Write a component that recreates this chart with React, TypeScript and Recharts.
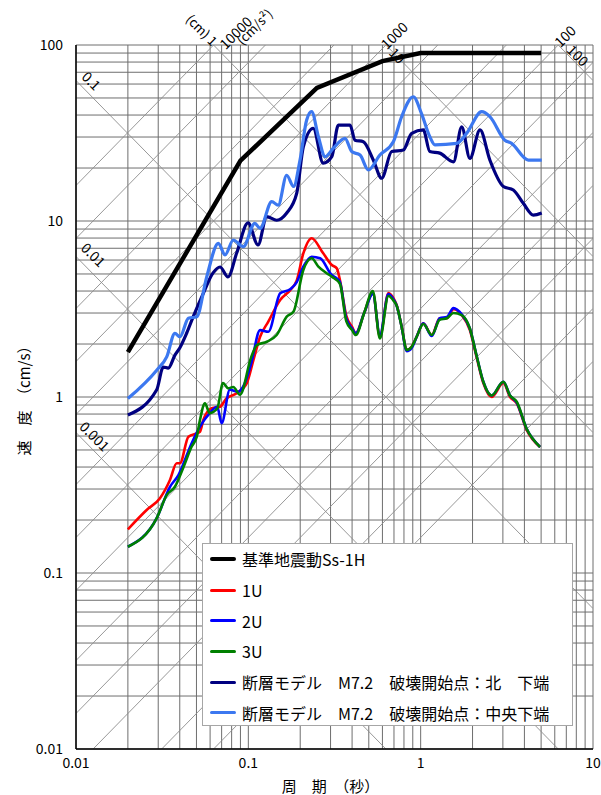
import React from 'react'
import {
  LineChart,
  Line,
  XAxis,
  YAxis,
  ReferenceLine,
  ReferenceDot,
  Legend,
} from 'recharts'

const FONT = '"Noto Sans CJK JP", "Noto Sans", sans-serif'

// 周期 (秒) / 速度 (cm/s)
const ssPeriod = [0.02, 0.09, 0.25, 0.6, 1.0, 5.0]
const ssVel = [1.8, 22, 57, 81, 90, 90]

const u1Period = [
  0.02, 0.0257, 0.0307, 0.0351, 0.0384, 0.0401, 0.0449, 0.0524, 0.0548, 0.0613,
  0.0685, 0.0746, 0.0856, 0.098, 0.107, 0.117, 0.1306, 0.153, 0.175, 0.191,
  0.2085, 0.233, 0.272, 0.305, 0.326, 0.34, 0.37, 0.4, 0.42, 0.47, 0.528, 0.58,
  0.65, 0.7, 0.726, 0.776, 0.83, 0.887, 0.948, 1.036, 1.16, 1.29, 1.42, 1.55,
  1.73, 1.93, 2.11, 2.31, 2.58, 3.02, 3.3, 3.61, 4.12, 4.93,
]
const u1Vel = [
  0.177, 0.228, 0.266, 0.338, 0.42, 0.42, 0.595, 0.635, 0.74, 0.863,
  0.88, 0.98, 1.05, 1.2, 1.62, 2.2, 2.68, 3.56, 4.05, 4.6,
  6.55, 7.98, 6.55, 5.62, 5.38, 4.62, 2.9, 2.5, 2.3, 3.0, 3.9, 2.2,
  3.9, 3.6, 3.33, 2.51, 1.85, 1.93, 2.2, 2.62, 2.25, 2.8, 2.8, 3.15,
  2.92, 2.4, 1.69, 1.2, 1.0, 1.2, 1.0, 0.92, 0.65, 0.52,
]

const u2Period = [
  0.02, 0.0294, 0.0351, 0.0393, 0.0469, 0.0524, 0.0597, 0.066, 0.07, 0.0781,
  0.087, 0.0955, 0.104, 0.117, 0.1306, 0.153, 0.175, 0.191, 0.2085, 0.233,
  0.261, 0.305, 0.326, 0.34, 0.37, 0.4, 0.42, 0.47, 0.528, 0.58, 0.65, 0.7,
  0.726, 0.776, 0.83, 0.887, 0.948, 1.036, 1.16, 1.29, 1.42, 1.55, 1.73, 1.93,
  2.11, 2.31, 2.58, 3.02, 3.3, 3.61, 4.12, 4.93,
]
const u2Vel = [
  0.141, 0.205, 0.309, 0.36, 0.546, 0.678, 0.81, 0.88, 0.71, 1.1,
  1.07, 1.2, 1.56, 2.4, 2.35, 3.88, 4.1, 4.5, 5.5, 6.27,
  6.14, 4.93, 4.72, 4.5, 2.8, 2.45, 2.3, 3.0, 3.85, 2.25, 3.85, 3.55,
  3.3, 2.5, 1.82, 1.9, 2.2, 2.62, 2.22, 2.8, 2.85, 3.2, 2.95, 2.45,
  1.72, 1.22, 1.02, 1.22, 1.02, 0.93, 0.66, 0.52,
]

const u3Period = [
  0.02, 0.0294, 0.0336, 0.0375, 0.0418, 0.0469, 0.0502, 0.0524, 0.056, 0.0597,
  0.066, 0.0713, 0.0765, 0.0818, 0.0894, 0.104, 0.112, 0.128, 0.146, 0.167,
  0.183, 0.2085, 0.233, 0.255, 0.285, 0.305, 0.34, 0.37, 0.4, 0.42, 0.47,
  0.528, 0.58, 0.65, 0.7, 0.726, 0.776, 0.83, 0.887, 0.948, 1.036, 1.16, 1.29,
  1.42, 1.55, 1.73, 1.93, 2.11, 2.31, 2.58, 3.02, 3.3, 3.61, 4.12, 4.93,
]
const u3Vel = [
  0.141, 0.205, 0.277, 0.309, 0.394, 0.523, 0.595, 0.74, 0.92, 0.81,
  0.86, 1.2, 1.12, 1.14, 1.03, 1.69, 1.97, 2.06, 2.25, 2.86,
  3.06, 5.27, 6.14, 5.5, 5.05, 4.83, 4.4, 2.7, 2.4, 2.25, 3.0,
  4.0, 2.15, 3.75, 3.5, 3.3, 2.5, 1.85, 1.93, 2.2, 2.6, 2.25, 2.75,
  2.8, 3.0, 2.92, 2.45, 1.72, 1.22, 1.02, 1.22, 1.02, 0.94, 0.66, 0.52,
]

const northPeriod = [
  0.02, 0.0294, 0.0321, 0.0343, 0.0375, 0.04, 0.0439, 0.0479, 0.0548, 0.0624,
  0.0685, 0.0762, 0.0856, 0.0996, 0.1138, 0.1278, 0.1461, 0.167, 0.191, 0.2085,
  0.238, 0.272, 0.305, 0.333, 0.389, 0.416, 0.465, 0.531, 0.594, 0.679, 0.793,
  0.887, 1.036, 1.13, 1.29, 1.55, 1.73, 1.93, 2.21, 2.52, 3.02, 3.45, 3.94,
  4.51, 5.04,
]
const northVel = [
  0.79, 1.1, 1.48, 1.46, 1.73, 1.9, 2.31, 2.86, 3.88, 5.07,
  5.48, 4.81, 6.58, 9.75, 7.31, 10.6, 10.1, 11.1, 14.4, 26.4,
  33.6, 21.3, 23.2, 35.1, 35.1, 28.8, 28.2, 22.2, 17.5, 24.8, 25.3,
  31.5, 32.9, 24.8, 24.3, 21.7, 34.3, 22.7, 32.9, 22.2, 15.7, 15.0, 12.6,
  10.8, 11.1,
]

const centerPeriod = [
  0.02, 0.0294, 0.0336, 0.0375, 0.0401, 0.0449, 0.0502, 0.0573, 0.067, 0.0732,
  0.0818, 0.0935, 0.109, 0.117, 0.1367, 0.149, 0.167, 0.183, 0.1995, 0.218,
  0.233, 0.255, 0.279, 0.311, 0.364, 0.398, 0.445, 0.497, 0.58, 0.694, 0.776,
  0.906, 1.01, 1.13, 1.21, 1.62, 1.85, 2.26, 2.52, 3.08, 3.37, 4.21, 5.04,
]
const centerVel = [
  0.98, 1.42, 1.69, 2.3, 2.2, 2.8, 2.86, 4.8, 7.47, 6.41,
  7.8, 7.15, 9.7, 9.09, 12.9, 12.3, 18.2, 15.7, 22.2, 37.5,
  41.8, 30.1, 23.2, 25.9, 29.5, 24.8, 23.7, 19.5, 23.7, 28.2, 39.2,
  50.8, 40.9, 30.1, 27.1, 27.6, 31.5, 41.8, 39.2, 28.8, 27.6, 22.2, 22.2,
]

const xTicks = [0.01, 0.1, 1, 10]
const yTicks = [0.01, 0.1, 1, 10, 100]

// 変位 (cm) と 加速度 (cm/s²) の斜め線
const dispLines = [0.001, 0.01, 0.1, 1, 10, 100]
const accLines = [1, 2, 5, 10, 20, 50, 100, 200, 500, 1000, 2000, 5000, 10000]

const rows = (t: number[], v: number[]) => t.map((p, i) => ({ t: p, v: v[i] }))

const series = [
  { name: '基準地震動Ss-1H', color: '#000000', width: 4.5, curve: 'linear', data: rows(ssPeriod, ssVel) },
  { name: '1U', color: '#ff0000', width: 2.6, curve: 'monotone', data: rows(u1Period, u1Vel) },
  { name: '2U', color: '#0000ff', width: 2.6, curve: 'monotone', data: rows(u2Period, u2Vel) },
  { name: '3U', color: '#008000', width: 2.6, curve: 'monotone', data: rows(u3Period, u3Vel) },
  { name: '断層モデル　M7.2　破壊開始点：北　下端', color: '#000080', width: 3.2, curve: 'monotone', data: rows(northPeriod, northVel) },
  { name: '断層モデル　M7.2　破壊開始点：中央下端', color: '#3c78f0', width: 3.2, curve: 'monotone', data: rows(centerPeriod, centerVel) },
]

const TMIN = 0.01, TMAX = 10, VMIN = 0.01, VMAX = 100
const W = 2 * Math.PI

const gridX: number[] = []
;[0.01, 0.1, 1].forEach((d) => {
  for (let k = 1; k <= 9; k++) gridX.push(+(d * k).toPrecision(3))
})
gridX.push(10)
const gridY: number[] = []
;[0.01, 0.1, 1, 10].forEach((d) => {
  for (let k = 1; k <= 9; k++) gridY.push(+(d * k).toPrecision(3))
})
gridY.push(100)

const dispSeg = (d: number) => {
  const t0 = Math.max(TMIN, (W * d) / VMAX)
  const t1 = Math.min(TMAX, (W * d) / VMIN)
  return [{ x: t0, y: (W * d) / t0 }, { x: t1, y: (W * d) / t1 }]
}
const accSeg = (a: number) => {
  const t0 = Math.max(TMIN, (W * VMIN) / a)
  const t1 = Math.min(TMAX, (W * VMAX) / a)
  return [{ x: t0, y: (a * t0) / W }, { x: t1, y: (a * t1) / W }]
}

// ラベル: 線上の点 (周期) からのずれ
const diagLabels = [
  { text: '0.1', kind: 'd', val: 0.1, t: 0.0111, dx: 8, dy: -8, angle: 45, anchor: 'middle' },
  { text: '0.01', kind: 'd', val: 0.01, t: 0.0111, dx: 10, dy: -10, angle: 45, anchor: 'middle' },
  { text: '0.001', kind: 'd', val: 0.001, t: 0.0116, dx: 8, dy: -8, angle: 45, anchor: 'middle' },
  { text: '(cm)  1', kind: 'd', val: 1, t: 0.0628, dx: 2, dy: -2, angle: 45, anchor: 'end' },
  { text: '10000', kind: 'a', val: 10000, t: 0.0628, dx: 8, dy: 1, angle: -45, anchor: 'start' },
  { text: '(cm/s²)', kind: 'a', val: 10000, t: 0.0628, dx: 25, dy: -3, angle: -45, anchor: 'start' },
  { text: '1000', kind: 'a', val: 1000, t: 0.628, dx: -3, dy: 1, angle: -45, anchor: 'start' },
  { text: '10', kind: 'd', val: 10, t: 0.628, dx: 12, dy: 10, angle: 45, anchor: 'middle' },
  { text: '100', kind: 'a', val: 100, t: 6.28, dx: -2, dy: -1, angle: -45, anchor: 'start' },
  { text: '100', kind: 'd', val: 100, t: 6.28, dx: 20, dy: 10, angle: 45, anchor: 'middle' },
]

const renderLegend = () => (
  <div
    style={{
      width: 371,
      height: 183,
      boxSizing: 'border-box',
      border: '1px solid #a6a6a6',
      background: '#fff',
      fontFamily: FONT,
      fontSize: 16,
      color: '#000',
    }}
  >
    {series.map((s, i) => (
      <div key={i} style={{ display: 'flex', alignItems: 'center', height: 30.7, whiteSpace: 'nowrap' }}>
        <div
          style={{
            marginLeft: 7,
            width: 26,
            height: s.width > 4 ? 4 : 3,
            background: s.color,
            borderRadius: 2,
          }}
        />
        <span style={{ marginLeft: 6 }}>{s.name}</span>
      </div>
    ))}
  </div>
)

export default function App() {
  return (
    <div style={{ position: 'absolute', left: 0, top: 0, width: 601, height: 795, background: '#fff' }}>
      <LineChart width={601} height={795} margin={{ top: 45, right: 8, bottom: 0, left: 0 }}>
        <XAxis
          dataKey="t"
          type="number"
          scale="log"
          domain={[TMIN, TMAX]}
          allowDataOverflow
          ticks={xTicks}
          interval={0}
          height={46}
          tickLine={false}
          tickSize={6}
          tickMargin={3}
          tickFormatter={(v) => String(v)}
          axisLine={{ stroke: '#000', strokeWidth: 1.5 }}
          tick={{ fontSize: 14, fill: '#000', fontFamily: FONT }}
          label={{
            value: '周　期　（秒）',
            position: 'insideBottom',
            offset: 3,
            dx: -4,
            style: { fontSize: 15, fill: '#000', fontFamily: FONT },
          }}
        />
        <YAxis
          type="number"
          scale="log"
          domain={[VMIN, VMAX]}
          allowDataOverflow
          ticks={yTicks}
          interval={0}
          width={76}
          tickLine={false}
          tickSize={6}
          tickMargin={7}
          tickFormatter={(v) => String(v)}
          axisLine={{ stroke: '#000', strokeWidth: 1.5 }}
          tick={{ fontSize: 14, fill: '#000', fontFamily: FONT }}
          label={{
            value: '速　度　（cm/s）',
            angle: -90,
            position: 'center',
            dx: -13,
            style: { fontSize: 15, fill: '#000', fontFamily: FONT, textAnchor: 'middle' },
          }}
        />

        {gridX.map((v) => (
          <ReferenceLine key={'gx' + v} x={v} stroke="#6e6e6e" strokeWidth={1} ifOverflow="visible" />
        ))}
        {gridY.map((v) => (
          <ReferenceLine key={'gy' + v} y={v} stroke="#6e6e6e" strokeWidth={1} ifOverflow="visible" />
        ))}
        {dispLines.map((d) => (
          <ReferenceLine key={'d' + d} segment={dispSeg(d)} stroke="#8c8c8c" strokeWidth={0.9} ifOverflow="hidden" />
        ))}
        {accLines.map((a) => (
          <ReferenceLine key={'a' + a} segment={accSeg(a)} stroke="#8c8c8c" strokeWidth={0.9} ifOverflow="hidden" />
        ))}

        {diagLabels.map((l, i) => (
          <ReferenceDot
            key={'lb' + i}
            x={l.t}
            y={l.kind === 'd' ? (W * l.val) / l.t : (l.val * l.t) / W}
            r={1}
            ifOverflow="visible"
            shape={(p: any) => {
              const x = p.cx + l.dx
              const y = p.cy + l.dy
              return (
                <text
                  x={x}
                  y={y}
                  transform={`rotate(${l.angle} ${x} ${y})`}
                  textAnchor={l.anchor}
                  dominantBaseline="central"
                  fontSize={l.text.startsWith('(') ? 13 : 14}
                  fontFamily={FONT}
                  fill="#000"
                >
                  {l.text}
                </text>
              )
            }}
          />
        ))}

        {series.map((s) => (
          <Line
            key={s.name}
            name={s.name}
            data={s.data}
            dataKey="v"
            type={s.curve as any}
            stroke={s.color}
            strokeWidth={s.width}
            dot={false}
            activeDot={false}
            isAnimationActive={false}
          />
        ))}

        <Legend
          layout="vertical"
          align="center"
          verticalAlign="middle"
          wrapperStyle={{ left: 202, top: 543, width: 371, height: 183 }}
          content={renderLegend}
        />
      </LineChart>
    </div>
  )
}
